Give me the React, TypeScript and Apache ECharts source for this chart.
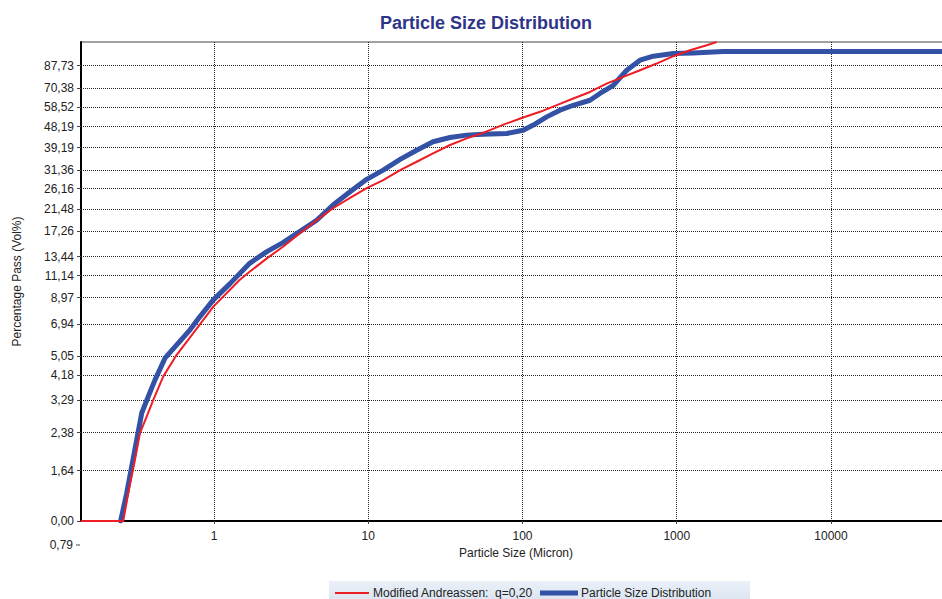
import React, { useEffect, useRef } from 'react';
import * as echarts from 'echarts';

const TITLE = 'Particle Size Distribution';
const X_NAME = 'Particle Size (Micron)';
const Y_NAME = 'Percentage Pass (Vol%)';
const LEGEND_RED = 'Modified Andreassen:  q=0,20';
const LEGEND_BLUE = 'Particle Size Distribution';

const X_MIN = 0.1373;
const X_MAX = 60000;
const Y_MIN = 1;
const Y_MAX = 110.6;

const X_TICKS = [1, 10, 100, 1000, 10000];
const Y_TICKS = [1, 1.64, 2.38, 3.29, 4.18, 5.05, 6.94, 8.97, 11.14, 13.44, 17.26, 21.48, 26.16, 31.36, 39.19, 48.19, 58.52, 70.38, 87.73];
const Y_TICK_LABELS = ['0,00', '1,64', '2,38', '3,29', '4,18', '5,05', '6,94', '8,97', '11,14', '13,44', '17,26', '21,48', '26,16', '31,36', '39,19', '48,19', '58,52', '70,38', '87,73'];
const Y_EXTRA_TICK = 0.79;
const Y_EXTRA_LABEL = '0,79';

// Modified Andreassen (q = 0.20): particle size (micron) / % pass
const ANDREASSEN_SIZE = [0.1373, 0.258, 0.278, 0.3075, 0.331, 0.366, 0.404, 0.469, 0.573, 0.734, 0.99, 1.47, 1.71, 2.2, 2.8, 3.61, 4.63, 5.91, 7.62, 9.77, 12.5, 16.1, 20.6, 26.3, 33.9, 43.5, 55.5, 79, 101, 130, 167, 213.5, 274, 351, 450, 578, 741, 950, 1219, 1564, 1815];
const ANDREASSEN_PASS = [0, 0, 1.32, 1.83, 2.37, 2.79, 3.29, 4.14, 5.12, 6.33, 8.22, 10.7, 11.6, 13.2, 14.8, 16.9, 19.2, 21.6, 23.9, 26.3, 28.5, 31.4, 34.1, 37.0, 40.2, 42.9, 45.3, 49.7, 52.7, 55.7, 59.5, 63.5, 67.7, 73.5, 78.5, 83.8, 89.5, 96.2, 102, 107.1, 110.6];

// Measured particle size distribution
const PSD_SIZE = [0.248, 0.272, 0.2927, 0.3154, 0.34, 0.375, 0.4145, 0.481, 0.573, 0.699, 0.811, 0.99, 1.27, 1.71, 2.2, 2.8, 3.61, 4.63, 5.91, 7.62, 9.77, 12.5, 16.1, 20.6, 26.3, 33.9, 43.5, 55.5, 79, 101, 117.5, 143.5, 175, 213.5, 274, 318, 388, 474, 578, 705, 950, 1280, 2000, 60000];
const PSD_PASS = [0, 1.32, 1.71, 2.22, 2.89, 3.4, 4.0, 4.95, 5.64, 6.54, 7.45, 8.78, 10.3, 12.6, 14.1, 15.4, 17.2, 19.2, 22.3, 25.4, 28.7, 31.4, 34.9, 38.2, 41.5, 43.3, 44.3, 44.7, 45.0, 46.5, 48.9, 53.0, 56.6, 59.4, 62.4, 66.7, 72.3, 83.8, 92.5, 96.2, 98.7, 99.3, 100.8, 100.8];

const FONT = '"Liberation Sans", Arial, sans-serif';
const RED = '#ee1c25';
const BLUE = '#3352a6';

export default function App() {
  const ref = useRef<HTMLDivElement>(null);

  useEffect(() => {
    const chart = echarts.init(ref.current!, null, { renderer: 'svg' });
    const floor = (v: number) => Math.max(v, Y_MIN);
    const redData = ANDREASSEN_SIZE.map((d, i) => [d, floor(ANDREASSEN_PASS[i])]);
    const blueData = PSD_SIZE.map((d, i) => [d, floor(PSD_PASS[i])]);

    const yLabel = (v: number) => {
      let best = 0;
      let bestD = Infinity;
      Y_TICKS.forEach((t, i) => {
        const d = Math.abs(Math.log(t) - Math.log(v));
        if (d < bestD) { bestD = d; best = i; }
      });
      return Y_TICK_LABELS[best];
    };

    const grid = { left: 81, top: 42, right: -9, bottom: 78 };

    chart.setOption({
      animation: false,
      backgroundColor: '#ffffff',
      title: {
        text: TITLE,
        left: 481,
        textAlign: 'center',
        top: 9,
        textStyle: { fontFamily: FONT, fontSize: 18, fontWeight: 'bold', color: '#2e3588' },
      },
      grid: { ...grid, show: true, borderColor: '#444', borderWidth: 1, containLabel: false, outerBoundsMode: 'none' },
      xAxis: {
        type: 'log',
        logBase: 10,
        min: X_MIN,
        max: X_MAX,
        name: X_NAME,
        nameLocation: 'middle',
        nameGap: 25,
        nameTextStyle: { fontFamily: FONT, fontSize: 12, color: '#222' },
        axisLine: { show: true, lineStyle: { color: '#000', width: 2 } },
        axisTick: { show: true, customValues: X_TICKS, length: 3, lineStyle: { color: '#444' } },
        axisLabel: {
          customValues: X_TICKS,
          formatter: (v: number) => String(Math.round(v)),
          fontFamily: FONT, fontSize: 12, color: '#222', margin: 9,
        },
        splitLine: { show: true, lineStyle: { color: '#222', width: 1, type: [1, 1] } },
        minorTick: { show: false },
      },
      yAxis: {
        type: 'log',
        logBase: 10,
        min: Y_MIN,
        max: Y_MAX,
        name: Y_NAME,
        nameLocation: 'middle',
        nameGap: 58,
        nameRotate: 90,
        nameTextStyle: { fontFamily: FONT, fontSize: 12, color: '#222' },
        axisLine: { show: true, lineStyle: { color: '#000', width: 2 } },
        axisTick: { show: true, customValues: Y_TICKS, length: 4, lineStyle: { color: '#444' } },
        axisLabel: {
          customValues: Y_TICKS,
          formatter: (v: number) => yLabel(v),
          fontFamily: FONT, fontSize: 12, color: '#222', margin: 7,
        },
        splitLine: { show: true, lineStyle: { color: '#222', width: 1, type: [1, 1] } },
      },
      series: [
        {
          name: LEGEND_BLUE,
          type: 'line',
          data: blueData,
          showSymbol: false,
          symbol: 'none',
          lineStyle: { color: BLUE, width: 5, join: 'round', cap: 'round' },
          itemStyle: { color: BLUE },
          z: 2,
        },
        {
          name: LEGEND_RED,
          type: 'line',
          data: redData,
          showSymbol: false,
          symbol: 'none',
          lineStyle: { color: RED, width: 2, join: 'round' },
          itemStyle: { color: RED },
          z: 3,
        },
      ],
    });

    const yExtra = chart.convertToPixel({ yAxisIndex: 0 }, Y_EXTRA_TICK) as number;
    const xLeft = chart.convertToPixel({ xAxisIndex: 0 }, X_MIN) as number;

    chart.setOption({
      graphic: [
        {
          id: 'extraTick', type: 'line', silent: true,
          shape: { x1: xLeft - 5, y1: yExtra, x2: xLeft - 1, y2: yExtra },
          style: { stroke: '#444', lineWidth: 1 },
        },
        {
          id: 'extraLabel', type: 'text', silent: true,
          x: xLeft - 8, y: yExtra,
          style: { text: Y_EXTRA_LABEL, fontFamily: FONT, fontSize: 12, fill: '#222', align: 'right', verticalAlign: 'middle' },
        },
        {
          id: 'legendBox', type: 'rect', silent: true,
          shape: { x: 329, y: 581, width: 421, height: 30 },
          style: {
            fill: {
              type: 'linear', x: 0, y: 0, x2: 0, y2: 1,
              colorStops: [{ offset: 0, color: '#eaf0f8' }, { offset: 1, color: '#d3deec' }],
            },
          },
        },
        {
          id: 'legendRedLine', type: 'line', silent: true,
          shape: { x1: 335, y1: 593, x2: 369, y2: 593 },
          style: { stroke: RED, lineWidth: 2 },
        },
        {
          id: 'legendRedText', type: 'text', silent: true,
          x: 373, y: 593,
          style: { text: LEGEND_RED, fontFamily: FONT, fontSize: 12, fill: '#222', align: 'left', verticalAlign: 'middle' },
        },
        {
          id: 'legendBlueLine', type: 'line', silent: true,
          shape: { x1: 540, y1: 593, x2: 578, y2: 593 },
          style: { stroke: BLUE, lineWidth: 5 },
        },
        {
          id: 'legendBlueText', type: 'text', silent: true,
          x: 581, y: 593,
          style: { text: LEGEND_BLUE, fontFamily: FONT, fontSize: 12, fill: '#222', align: 'left', verticalAlign: 'middle' },
        },
      ],
    });

    return () => chart.dispose();
  }, []);

  return <div ref={ref} style={{ position: 'fixed', left: 0, top: 0, width: 942, height: 599 }} />;
}
